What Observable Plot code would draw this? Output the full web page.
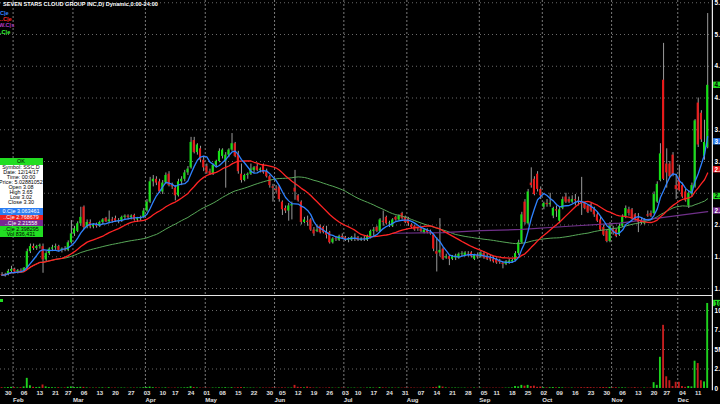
<!DOCTYPE html>
<html><head><meta charset="utf-8">
<script src="https://cdn.jsdelivr.net/npm/d3@7"></script>
<script src="https://cdn.jsdelivr.net/npm/@observablehq/plot@0.6"></script>
<style>
html,body{margin:0;padding:0;background:#000;}
#wrap{position:relative;width:720px;height:404px;overflow:hidden;background:#000;font-family:"Liberation Sans",Arial,sans-serif;}
#wrap .abs{position:absolute;}
.hdr{font-weight:bold;font-size:5.6px;white-space:nowrap;line-height:6px;}
#tip{left:-1px;top:158px;width:44px;font-size:5.4px;line-height:5px;text-align:center;white-space:nowrap;}
#tip div{height:5px;overflow:hidden;}
</style></head>
<body><div id="wrap"></div>
<script>
// ---------- data ----------
const firstDay = "2017-01-26", lastDay = "2017-12-14";
const holidays = ["2017-02-20","2017-04-14","2017-05-29","2017-07-04","2017-09-04","2017-11-23"];

const open = [
1.22,1.21,1.22,1.27,1.30,1.26,1.28,1.27,1.32,1.58,
1.66,1.63,1.66,1.66,1.45,1.55,1.62,1.64,1.66,1.60,
1.62,1.60,1.72,1.86,1.90,2.02,2.28,1.96,2.04,1.97,
2.00,1.98,2.04,2.10,2.05,2.08,2.10,2.06,2.06,2.12,
2.14,2.12,2.15,2.08,2.10,2.12,2.22,2.36,2.68,2.72,
2.68,2.52,2.66,2.80,2.62,2.58,2.46,2.68,2.72,2.82,
2.90,3.33,3.14,3.20,3.02,2.92,2.84,2.80,2.94,3.00,
3.08,3.00,3.10,3.18,3.28,3.12,2.80,2.70,2.78,2.80,
2.86,2.92,2.86,2.94,2.84,2.76,2.60,2.56,2.60,2.36,
2.26,2.22,2.30,2.58,2.46,2.36,2.04,2.06,2.08,1.92,
1.90,1.98,1.96,1.88,1.88,1.72,1.78,1.76,1.82,1.80,
1.76,1.76,1.78,1.80,1.76,1.78,1.76,1.80,1.90,1.96,
1.90,2.06,2.12,2.02,1.98,2.12,2.08,2.18,2.12,2.10,
2.00,1.98,1.94,1.94,1.88,1.92,1.88,1.84,1.58,1.56,
1.62,1.48,1.50,1.46,1.48,1.48,1.54,1.52,1.54,1.56,
1.46,1.52,1.50,1.55,1.50,1.48,1.46,1.46,1.44,1.40,
1.38,1.40,1.42,1.44,1.55,1.72,2.36,2.02,2.66,2.72,
2.80,2.56,2.28,2.34,2.32,2.14,2.24,2.06,2.26,2.44,
2.40,2.36,2.40,2.38,2.36,2.34,2.30,2.32,2.24,2.16,
2.08,1.96,1.90,1.74,1.94,1.92,1.84,1.98,2.12,2.24,
2.24,2.16,2.10,2.06,2.02,2.16,2.18,2.18,2.36,2.70,
4.28,2.96,2.96,3.10,2.62,2.74,2.62,2.52,2.30,2.48,
2.60,3.92,3.76,3.08,3.22];
const high = [
1.25,1.24,1.30,1.35,1.32,1.30,1.31,1.33,1.62,1.70,
1.70,1.68,1.70,1.70,1.58,1.64,1.68,1.70,1.68,1.64,
1.66,1.75,2.07,1.98,2.05,2.28,2.30,2.08,2.08,2.02,
2.03,2.06,2.10,2.12,2.22,2.12,2.14,2.10,2.14,2.16,
2.16,2.16,2.17,2.12,2.14,2.26,2.40,2.75,2.78,2.76,
2.72,2.70,2.82,2.84,2.66,2.62,2.72,2.76,2.86,2.92,
3.38,3.38,3.28,3.24,3.08,2.96,2.88,2.96,3.02,3.20,
3.20,3.14,3.20,3.44,3.30,3.16,2.96,2.80,2.82,2.96,
2.92,2.96,2.90,2.96,2.88,2.78,2.64,2.62,2.62,2.38,
2.30,2.34,2.36,2.86,2.48,2.38,2.12,2.14,2.10,1.96,
2.00,2.00,1.98,1.98,1.90,1.80,1.82,1.84,1.86,1.82,
1.80,1.82,1.86,1.82,1.80,1.82,1.84,1.92,1.96,1.98,
2.10,2.22,2.14,2.06,2.10,2.14,2.16,2.20,2.14,2.12,
2.02,2.00,1.96,1.96,1.94,1.94,1.92,1.86,1.80,2.10,
1.64,1.54,1.52,1.52,1.54,1.56,1.58,1.58,1.58,1.58,
1.54,1.56,1.58,1.58,1.54,1.52,1.50,1.48,1.46,1.42,
1.44,1.46,1.46,1.58,1.76,2.20,2.40,2.56,2.90,2.76,
2.84,2.60,2.36,2.40,2.50,2.28,2.30,2.28,2.44,2.50,
2.44,2.46,2.48,2.44,2.75,2.36,2.32,2.34,2.28,2.20,
2.12,2.00,1.92,2.04,1.98,1.94,2.02,2.16,2.30,2.28,
2.26,2.18,2.18,2.10,2.10,2.22,2.22,2.52,2.68,3.28,
4.86,3.20,3.00,3.14,2.80,2.94,2.66,2.56,2.54,2.66,
3.66,4.00,3.80,3.65,5.33];
const low = [
1.19,1.18,1.20,1.25,1.24,1.23,1.25,1.26,1.30,1.55,
1.60,1.60,1.62,1.24,1.42,1.52,1.58,1.60,1.58,1.56,
1.58,1.58,1.70,1.82,1.88,1.98,1.93,1.94,1.94,1.94,
1.95,1.96,2.00,2.04,2.02,2.03,2.04,2.02,2.04,2.08,
2.08,2.08,2.06,2.04,2.06,2.10,2.20,2.34,2.60,2.62,
2.50,2.48,2.64,2.60,2.56,2.38,2.44,2.62,2.68,2.78,
2.88,3.12,3.10,2.98,2.84,2.80,2.78,2.78,2.90,2.98,
3.04,2.58,3.06,3.16,3.06,2.80,2.66,2.68,2.72,2.78,
2.82,2.84,2.82,2.80,2.74,2.58,2.36,2.50,2.36,2.15,
2.18,2.06,2.08,2.39,2.36,2.00,2.02,1.98,1.90,1.82,
1.88,1.86,1.86,1.78,1.70,1.70,1.74,1.74,1.78,1.74,
1.72,1.74,1.74,1.74,1.74,1.74,1.74,1.78,1.82,1.88,
1.88,1.98,2.00,1.96,1.96,2.06,2.06,2.08,2.02,1.98,
1.94,1.90,1.90,1.88,1.86,1.86,1.84,1.58,1.26,1.50,
1.44,1.46,1.36,1.44,1.44,1.46,1.50,1.50,1.50,1.48,
1.44,1.46,1.48,1.46,1.44,1.42,1.40,1.38,1.38,1.31,
1.36,1.38,1.40,1.42,1.52,1.70,2.00,2.00,2.58,2.46,
2.52,2.40,2.24,2.28,2.28,2.10,2.12,2.02,2.24,2.34,
2.34,2.34,2.30,2.30,2.15,2.24,2.18,2.20,2.12,2.04,
1.90,1.82,1.72,1.72,1.84,1.80,1.82,1.96,2.10,2.14,
2.08,2.06,1.88,2.00,2.00,2.12,2.12,2.16,2.34,2.68,
2.70,2.58,2.74,2.76,2.40,2.52,2.42,2.36,2.26,2.44,
2.58,3.22,3.30,3.02,3.20];
const close = [
1.21,1.22,1.27,1.30,1.26,1.28,1.27,1.32,1.58,1.66,
1.63,1.66,1.68,1.45,1.55,1.62,1.64,1.66,1.60,1.62,
1.60,1.72,1.86,1.94,2.02,2.12,1.96,2.04,1.97,2.00,
1.98,2.04,2.08,2.05,2.08,2.06,2.06,2.07,2.12,2.14,
2.12,2.14,2.08,2.10,2.12,2.22,2.36,2.68,2.72,2.66,
2.52,2.66,2.78,2.62,2.60,2.46,2.68,2.72,2.82,2.88,
3.30,3.14,3.26,3.02,2.90,2.82,2.80,2.94,3.00,3.16,
3.18,3.10,3.18,3.28,3.08,2.84,2.70,2.78,2.80,2.88,
2.90,2.86,2.88,2.82,2.76,2.62,2.58,2.54,2.40,2.24,
2.22,2.30,2.32,2.52,2.38,2.04,2.08,2.04,1.92,1.86,
1.92,1.88,1.88,1.84,1.72,1.78,1.77,1.82,1.80,1.76,
1.78,1.80,1.79,1.76,1.78,1.77,1.82,1.90,1.92,1.90,
2.08,2.04,2.02,2.03,2.08,2.08,2.14,2.10,2.04,2.02,
1.96,1.92,1.93,1.90,1.92,1.88,1.86,1.62,1.54,1.60,
1.46,1.50,1.46,1.50,1.51,1.54,1.55,1.56,1.53,1.50,
1.52,1.50,1.55,1.48,1.46,1.45,1.42,1.40,1.41,1.38,
1.42,1.43,1.44,1.55,1.72,2.16,2.04,2.52,2.62,2.48,
2.56,2.46,2.34,2.32,2.34,2.26,2.22,2.24,2.40,2.36,
2.36,2.40,2.38,2.36,2.34,2.26,2.20,2.22,2.16,2.06,
1.92,1.84,1.74,1.98,1.88,1.82,1.98,2.12,2.26,2.18,
2.10,2.08,2.04,2.04,2.08,2.14,2.14,2.48,2.64,3.12,
2.72,2.82,2.76,2.78,2.56,2.54,2.44,2.38,2.50,2.62,
3.64,3.26,3.34,3.30,4.20];
// volume in millions
const volume = [
0.10,0.08,0.12,0.15,0.10,0.08,0.10,0.20,1.30,0.35,
0.15,0.12,0.15,0.45,0.20,0.12,0.10,0.08,0.10,0.06,
0.08,0.15,0.20,0.12,0.12,0.15,0.14,0.08,0.06,0.05,
0.06,0.06,0.08,0.05,0.10,0.05,0.06,0.04,0.06,0.05,
0.04,0.05,0.06,0.05,0.06,0.10,0.12,0.18,0.10,0.08,
0.06,0.05,0.08,0.06,0.04,0.06,0.05,0.06,0.08,0.10,
0.22,0.12,0.08,0.06,0.05,0.05,0.04,0.06,0.05,0.08,
0.06,0.10,0.05,0.10,0.06,0.10,0.12,0.08,0.05,0.06,
0.05,0.04,0.05,0.06,0.05,0.06,0.08,0.06,0.05,0.08,
0.06,0.05,0.06,0.40,0.15,0.12,0.08,0.18,0.10,0.06,
0.05,0.06,0.04,0.05,0.08,0.05,0.04,0.06,0.05,0.04,
0.05,0.04,0.05,0.04,0.05,0.04,0.06,0.08,0.06,0.05,
0.12,0.08,0.06,0.05,0.06,0.05,0.06,0.05,0.06,0.05,
0.06,0.05,0.04,0.05,0.04,0.05,0.06,0.12,0.15,0.30,
0.18,0.08,0.06,0.05,0.06,0.05,0.04,0.05,0.04,0.05,
0.06,0.04,0.05,0.05,0.06,0.04,0.05,0.05,0.04,0.06,
0.05,0.06,0.08,0.25,0.20,0.40,0.30,0.40,0.25,0.30,
0.15,0.18,0.10,0.08,0.10,0.12,0.08,0.10,0.08,0.06,
0.05,0.06,0.05,0.06,0.10,0.08,0.12,0.10,0.08,0.06,
0.10,0.12,0.10,0.12,0.08,0.10,0.06,0.08,0.06,0.05,
0.06,0.10,0.05,0.04,0.06,0.05,0.06,0.75,0.40,4.00,
8.10,1.50,1.00,0.25,0.80,0.80,0.25,0.15,0.25,0.20,
3.50,3.20,1.00,0.84,10.90];

// slow purple average, read at a few days (index of trading day, value)
const purpleDay = [124,140,152,165,180,196,210,224];
const purpleVal = [1.87,1.88,1.91,1.93,1.98,2.03,2.12,2.21];

const priceTicks = [1.0,1.5,2.0,2.5,3.0,3.5,4.0,4.5,5.0,5.5];
const volTicks = [0,2.5,5,7.5,10];
const volTickLabels = ["0","2.5","5M","7.5","10"];
const endLabels = [
  {v:4.20, text:"4.200", fill:"#22dd22", color:"#000"},
  {v:3.31, text:"3.313", fill:"#2a7cf2", color:"#fff"},
  {v:2.87, text:"2.868", fill:"#ee2020", color:"#fff"},
  {v:2.45, text:"2.452", fill:"#22dd22", color:"#000"},
  {v:2.22, text:"2.221", fill:"#7a2a92", color:"#fff"}
];
const volEnd = [{v:10.9, text:"10.90", fill:"#22dd22", color:"#000"}];

// ---------- build ----------
const fmt = d3.utcFormat("%Y-%m-%d");
const days = d3.utcDays(new Date(firstDay), d3.utcDay.offset(new Date(lastDay), 1))
  .filter(d => d.getUTCDay() % 6 !== 0 && !holidays.includes(fmt(d)));
const n = Math.min(days.length, close.length);
const rows = d3.range(n).map(i => ({i, date: days[i], o: open[i], h: high[i], l: low[i], c: close[i], v: volume[i], up: close[i] >= open[i]}));
const weekStarts = rows.filter(r => r.i > 0 && +d3.utcMonday.floor(r.date) !== +d3.utcMonday.floor(days[r.i-1]))
  .map(r => ({i: r.i, label: d3.utcFormat("%d")(r.date)}));
const monthStarts = rows.filter(r => r.i > 0 && r.date.getUTCMonth() !== days[r.i-1].getUTCMonth())
  .map(r => ({i: r.i, label: d3.utcFormat("%b")(r.date)}));
const purple = purpleDay.map((d, k) => ({i: d, v: purpleVal[k]}));
// tick labels hidden behind the coloured value boxes on the right axis
const shownTicks = priceTicks.filter(t => !endLabels.some(e => Math.abs(e.v - t) < 0.08));

const dayW = 3.15;
const plotW = n * dayW;
const mRight = 720 - plotW;
const axisX = n + 0.5;       // right axis line
const labX = n + 1.2;        // right labels
const GREEN = "#16e016", RED = "#ea1a1a", WICK = "#9a9a9a";
const baseStyle = {background: "#000", color: "#fff", fontFamily: "Liberation Sans, Arial, sans-serif", fontSize: "6.4px"};

const price = Plot.plot({
  width: 720, height: 296, marginLeft: 0, marginRight: mRight, marginTop: 0, marginBottom: 0,
  style: baseStyle,
  x: {domain: [-0.5, n - 0.5], axis: null},
  y: {domain: [1, 5.5], range: [288, 2.25], axis: null},
  marks: [
    Plot.ruleY(priceTicks, {y: d => d, x1: -0.5, x2: axisX, stroke: "#6a6a6a", strokeDasharray: "1,3"}),
    Plot.ruleX(monthStarts, {x: d => d.i - 0.5, stroke: "#7a7a7a", strokeDasharray: "2,2"}),
    Plot.ruleX(rows, {x: "i", y1: "l", y2: "h", stroke: WICK, strokeWidth: 1}),
    Plot.rect(rows, {x1: d => d.i - 0.33, x2: d => d.i + 0.33, y1: "o", y2: "c", fill: d => d.up ? GREEN : RED}),
    Plot.lineY(rows, Plot.windowY({k: 50, anchor: "end"}, {x: "i", y: "c", stroke: "#58a858", strokeWidth: 1})),
    Plot.lineY(purple, {x: "i", y: "v", stroke: "#70308a", strokeWidth: 1.2}),
    Plot.lineY(rows, Plot.windowY({k: 20, anchor: "end"}, {x: "i", y: "c", stroke: "#ff2424", strokeWidth: 1.3})),
    Plot.lineY(rows, Plot.windowY({k: 6, anchor: "end"}, {x: "i", y: "c", stroke: "#2e82ff", strokeWidth: 1.3})),
    Plot.ruleX([axisX], {stroke: "#e8e8e8", strokeWidth: 1.2}),
    Plot.text(shownTicks, {x: labX, y: d => d, text: d => d.toFixed(1), textAnchor: "start", fill: "#fff", fontWeight: "bold"}),
    Plot.rect(endLabels, {x1: n + 0.9, x2: n + 6, y1: d => d.v - 0.05, y2: d => d.v + 0.05, fill: "fill"}),
    Plot.text(endLabels, {x: labX, y: "v", text: "text", textAnchor: "start", fill: "color", fontWeight: "bold"})
  ]
});

const vol = Plot.plot({
  width: 720, height: 108, marginLeft: 0, marginRight: mRight, marginTop: 0, marginBottom: 0,
  style: baseStyle,
  x: {domain: [-0.5, n - 0.5], axis: null},
  y: {domain: [0, 10], range: [92, 14], axis: null},
  marks: [
    Plot.ruleY([2.5, 5, 7.5, 10], {y: d => d, x1: -0.5, x2: axisX, stroke: "#6a6a6a", strokeDasharray: "1,3"}),
    Plot.ruleX(monthStarts, {x: d => d.i - 0.5, y1: 0, y2: 11.8, stroke: "#7a7a7a", strokeDasharray: "2,2"}),
    Plot.rect(rows, {x1: d => d.i - 0.3, x2: d => d.i + 0.3, y1: 0, y2: "v", fill: d => d.up ? "#1ed21e" : "#c41e1e"}),
    Plot.ruleX([axisX], {y1: -0.3, y2: 12, stroke: "#e8e8e8", strokeWidth: 1.2}),
    Plot.text(volTicks, {x: labX, y: d => d, text: (d, k) => volTickLabels[k], textAnchor: "start", fill: "#fff", fontWeight: "bold"}),
    Plot.rect(volEnd, {x1: n + 0.9, x2: n + 6, y1: d => d.v - 0.4, y2: d => d.v + 0.4, fill: "fill"}),
    Plot.text(volEnd, {x: labX, y: "v", text: "text", textAnchor: "start", fill: "color", fontWeight: "bold"}),
    Plot.text(weekStarts, {x: "i", text: "label", frameAnchor: "bottom", dy: -9.5, fill: "#e0e0e0", fontWeight: "bold", fontSize: 6}),
    Plot.text(monthStarts, {x: d => d.i - 0.5, text: "label", frameAnchor: "bottom", dy: -2.5, textAnchor: "start", fill: "#e0e0e0", fontWeight: "bold", fontSize: 6})
  ]
});

const wrap = document.getElementById("wrap");
price.style.position = "absolute"; price.style.left = "0px"; price.style.top = "0px";
vol.style.position = "absolute"; vol.style.left = "0px"; vol.style.top = "296px";
wrap.appendChild(price);
wrap.appendChild(vol);

// separator between panels
const sep = document.createElement("div");
sep.className = "abs";
sep.style.cssText = "left:0;top:294.5px;width:712px;height:1.5px;background:#e6e6e6;";
wrap.appendChild(sep);
const vmark = document.createElement("div");
vmark.className = "abs";
vmark.style.cssText = "left:0;top:299px;width:3px;height:3px;background:#22dd22;";
wrap.appendChild(vmark);

// header + legend
const header = [
  {text: "SEVEN STARS CLOUD GROUP INC,D) Dynamic,0:00-24:00", color: "#ffffff", top: 1, left: 3},
  {text: "C|e", color: "#3a86ff", top: 10, left: 0},
  {text: "L.C|e", color: "#ff2a2a", top: 16, left: -2},
  {text: "W.C|s", color: "#b03ac8", top: 22, left: -1},
  {text: ".C|e", color: "#3aff3a", top: 29, left: 0}
];
header.forEach(h => {
  const d = document.createElement("div");
  d.className = "abs hdr";
  d.style.cssText = `left:${h.left}px;top:${h.top}px;color:${h.color};`;
  d.textContent = h.text;
  wrap.appendChild(d);
});

// data window (tooltip box)
const tipRows = [
  {t: "OK", bg: "#22dd22", c: "#000", h: 7},
  {t: "Symbol: SSC,D", bg: "#fff", c: "#000"},
  {t: "Date: 12/14/17", bg: "#fff", c: "#000"},
  {t: "Time: 00:00", bg: "#fff", c: "#000"},
  {t: "Price: 5.02881052", bg: "#fff", c: "#000"},
  {t: "Open  3.08", bg: "#fff", c: "#000"},
  {t: "High  3.65", bg: "#fff", c: "#000"},
  {t: "Low  3.02", bg: "#fff", c: "#000"},
  {t: "Close  3.30", bg: "#fff", c: "#000"},
  {t: "", bg: "#fff", c: "#000", h: 3},
  {t: "0.C|e 3.063461", bg: "#2a7cf2", c: "#fff", h: 7},
  {t: "..C|e 2.768679", bg: "#ee2020", c: "#fff"},
  {t: "..C|e 2.21558", bg: "#7a2a92", c: "#fff", h: 6},
  {t: "..C|e 2.398295", bg: "#22dd22", c: "#000", h: 6},
  {t: "Vol 836,431", bg: "#22dd22", c: "#000"}
];
const tip = document.createElement("div");
tip.id = "tip"; tip.className = "abs";
tipRows.forEach(r => {
  const d = document.createElement("div");
  d.textContent = r.t;
  const hh = r.h || 5;
  d.style.cssText = `background:${r.bg};color:${r.c};height:${hh}px;line-height:${hh}px;`;
  tip.appendChild(d);
});
wrap.appendChild(tip);
</script>
</body></html>
